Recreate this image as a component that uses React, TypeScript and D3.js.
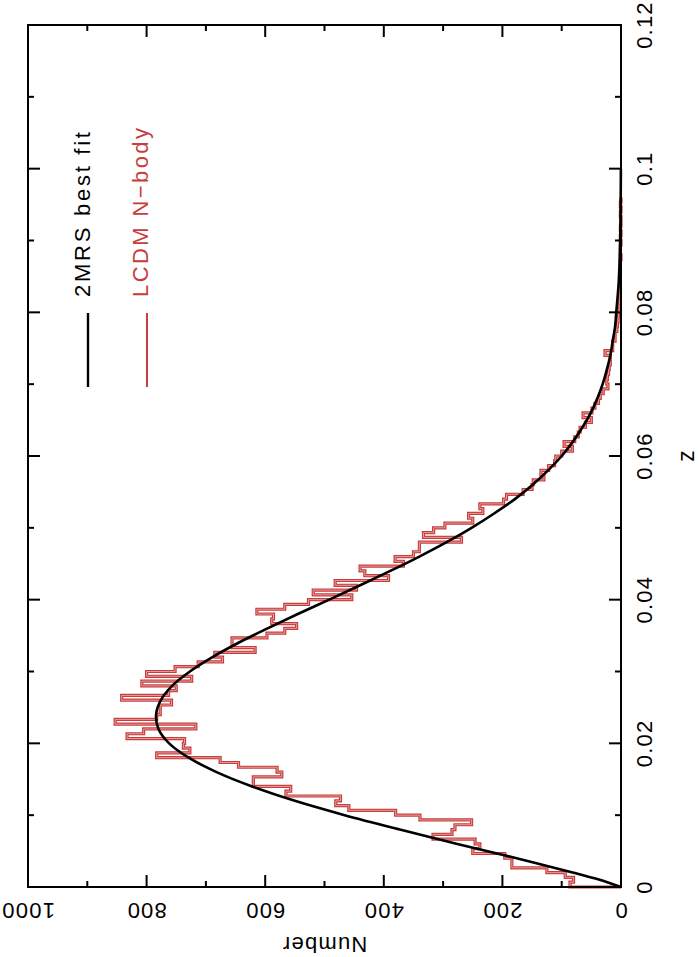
import React from 'react';
import * as d3 from 'd3';

// ---- data ----
const zMajorTicks = [0, 0.02, 0.04, 0.06, 0.08, 0.1, 0.12];
const zTickLabels = ['0', '0.02', '0.04', '0.06', '0.08', '0.1', '0.12'];
const zMinorTicks = [0.01, 0.03, 0.05, 0.07, 0.09, 0.11];
const nMajorTicks = [0, 200, 400, 600, 800, 1000];
const nTickLabels = ['0', '200', '400', '600', '800', '1000'];
const nMinorTicks = [100, 300, 500, 700, 900];

// histogram bin width in z (200 km/s)
const binWidth = 0.0006667;
// LCDM N-body counts per bin, starting at z = 0
const histCounts = [
  86, 80, 94, 125, 184, 184, 196, 250, 238, 246,
  317, 285, 280, 252, 339, 380, 459, 481, 473, 565,
  557, 620, 620, 572, 580, 645, 676, 783, 727, 738,
  736, 833, 805, 717, 853, 783, 777, 777, 758, 842,
  763, 750, 808, 724, 800, 752, 713, 672, 685, 617,
  656, 656, 597, 567, 547, 589, 586, 614, 567, 527,
  454, 519, 446, 482, 392, 432, 440, 367, 381, 350,
  340, 340, 269, 333, 316, 297, 250, 257, 233, 238,
  198, 193, 165, 150, 148, 130, 135, 122, 112, 110,
  100, 82, 96, 78, 72, 69, 60, 50, 64, 49,
  44, 38, 35, 30, 22, 24, 23, 21, 20, 18,
  18, 27, 14, 14, 10, 10, 7, 6, 5, 4,
  3, 3, 2, 2, 2, 1, 2, 1, 1, 1,
  1, 0, 1, 1, 0, 1, 0, 1, 0, 0,
  1, 0, 1, 0,
];

// 2MRS best fit curve
const fitZ = [
  0, 0.001, 0.002, 0.004, 0.006, 0.008, 0.010, 0.012, 0.014, 0.016,
  0.018, 0.020, 0.022, 0.024, 0.026, 0.028, 0.030, 0.032, 0.034, 0.036,
  0.038, 0.040, 0.042, 0.044, 0.046, 0.048, 0.050, 0.052, 0.054, 0.056,
  0.058, 0.060, 0.062, 0.064, 0.066, 0.068, 0.070, 0.072, 0.074, 0.076,
  0.078, 0.080, 0.084, 0.088, 0.092, 0.096, 0.100,
];
const fitN = [
  0, 36, 80, 176, 276, 373, 466, 550, 622, 682,
  729, 762, 780, 784, 776, 757, 727, 689, 645, 596,
  545, 492, 440, 389, 340, 294, 252, 214, 179, 149,
  123, 100, 81, 65, 51, 40, 31, 24, 18, 14,
  10, 8, 4, 2, 1, 0.5, 0.2,
];

const legendLabels = ['2MRS best fit', 'LCDM N\u2212body'];
const xTitle = 'z';
const yTitle = 'Number';

// ---- layout ----
const W = 699;
const H = 957;
const RED = '#c83c3c';
const FONT = '"Liberation Sans", Arial, Helvetica, sans-serif';

export default function App() {
  const nScale = d3.scaleLinear().domain([0, 1000]).range([621, 28]);
  const zScale = d3.scaleLinear().domain([0, 0.12]).range([887, 25]);

  const left = nScale(1000);
  const right = nScale(0);
  const top = zScale(0.12);
  const bottom = zScale(0);

  // histogram outline as a step path (rotated: z vertical, N horizontal)
  const histPts: [number, number][] = [[0, 0]];
  histCounts.forEach((c, k) => {
    histPts.push([c, k * binWidth]);
    histPts.push([c, (k + 1) * binWidth]);
  });
  histPts.push([0, histCounts.length * binWidth]);
  const histLine = d3
    .line<[number, number]>()
    .x((d) => nScale(d[0]))
    .y((d) => zScale(d[1]));
  const histPath = histLine(histPts) || '';

  const fitPts: [number, number][] = fitZ.map((z, i) => [fitN[i], z]);
  const fitLine = d3
    .line<[number, number]>()
    .x((d) => nScale(d[0]))
    .y((d) => zScale(d[1]))
    .curve(d3.curveCatmullRom);
  const fitPath = fitLine(fitPts) || '';

  const majorLen = 12;
  const minorLen = 6;

  return (
    <svg
      width={W}
      height={H}
      style={{ position: 'absolute', left: 0, top: 0, background: '#fff' }}
      fontFamily={FONT}
    >
      <rect x={0} y={0} width={W} height={H} fill="#fff" />
      {/* histogram (hollow red stroke) */}
      <path d={histPath} fill="none" stroke={RED} strokeWidth={3.2} strokeLinejoin="miter" />
      <path d={histPath} fill="none" stroke="#eeb4b4" strokeWidth={0.8} strokeLinejoin="miter" />
      {/* best fit */}
      <path d={fitPath} fill="none" stroke="#000" strokeWidth={2.6} />

      {/* frame */}
      <rect
        x={left}
        y={top}
        width={right - left}
        height={bottom - top}
        fill="none"
        stroke="#000"
        strokeWidth={2}
      />

      {/* z ticks on right and left edges */}
      {zMajorTicks.map((t) => (
        <g key={'zM' + t}>
          <line x1={right} x2={right - majorLen} y1={zScale(t)} y2={zScale(t)} stroke="#000" strokeWidth={2} />
          <line x1={left} x2={left + majorLen} y1={zScale(t)} y2={zScale(t)} stroke="#000" strokeWidth={2} />
        </g>
      ))}
      {zMinorTicks.map((t) => (
        <g key={'zm' + t}>
          <line x1={right} x2={right - minorLen} y1={zScale(t)} y2={zScale(t)} stroke="#000" strokeWidth={2} />
          <line x1={left} x2={left + minorLen} y1={zScale(t)} y2={zScale(t)} stroke="#000" strokeWidth={2} />
        </g>
      ))}
      {/* N ticks on bottom and top edges */}
      {nMajorTicks.map((t) => (
        <g key={'nM' + t}>
          <line x1={nScale(t)} x2={nScale(t)} y1={bottom} y2={bottom - majorLen} stroke="#000" strokeWidth={2} />
          <line x1={nScale(t)} x2={nScale(t)} y1={top} y2={top + majorLen} stroke="#000" strokeWidth={2} />
        </g>
      ))}
      {nMinorTicks.map((t) => (
        <g key={'nm' + t}>
          <line x1={nScale(t)} x2={nScale(t)} y1={bottom} y2={bottom - minorLen} stroke="#000" strokeWidth={2} />
          <line x1={nScale(t)} x2={nScale(t)} y1={top} y2={top + minorLen} stroke="#000" strokeWidth={2} />
        </g>
      ))}

      {/* z tick labels, rotated to read upward */}
      {zMajorTicks.map((t, i) => (
        <text
          key={'zl' + t}
          transform={`translate(652, ${zScale(t)}) rotate(-90)`}
          textAnchor="middle"
          fontSize={22}
          letterSpacing={1.2}
          fill="#000"
        >
          {zTickLabels[i]}
        </text>
      ))}
      {/* N tick labels, upside down */}
      {nMajorTicks.map((t, i) => (
        <text
          key={'nl' + t}
          transform={`translate(${nScale(t)}, 903) rotate(180)`}
          textAnchor="middle"
          fontSize={22}
          letterSpacing={1.2}
          fill="#000"
        >
          {nTickLabels[i]}
        </text>
      ))}

      {/* axis titles */}
      <text
        transform={`translate(694, ${(top + bottom) / 2}) rotate(-90)`}
        textAnchor="middle"
        fontSize={23}
        fill="#000"
      >
        {xTitle}
      </text>
      <text
        transform={`translate(${(left + right) / 2}, 937) rotate(180)`}
        textAnchor="middle"
        fontSize={22}
        letterSpacing={1.2}
        fill="#000"
      >
        {yTitle}
      </text>

      {/* legend */}
      <line x1={88} x2={88} y1={313} y2={387} stroke="#000" strokeWidth={2.4} />
      <text
        transform="translate(89.5, 297) rotate(-90)"
        textAnchor="start"
        fontSize={22}
        textLength={165}
        lengthAdjust="spacing"
        fill="#000"
      >
        {legendLabels[0]}
      </text>
      <line x1={147} x2={147} y1={313} y2={387} stroke={RED} strokeWidth={2} />
      <text
        transform="translate(148, 297) rotate(-90)"
        textAnchor="start"
        fontSize={22}
        textLength={169}
        lengthAdjust="spacing"
        fill={RED}
      >
        {legendLabels[1]}
      </text>
    </svg>
  );
}
